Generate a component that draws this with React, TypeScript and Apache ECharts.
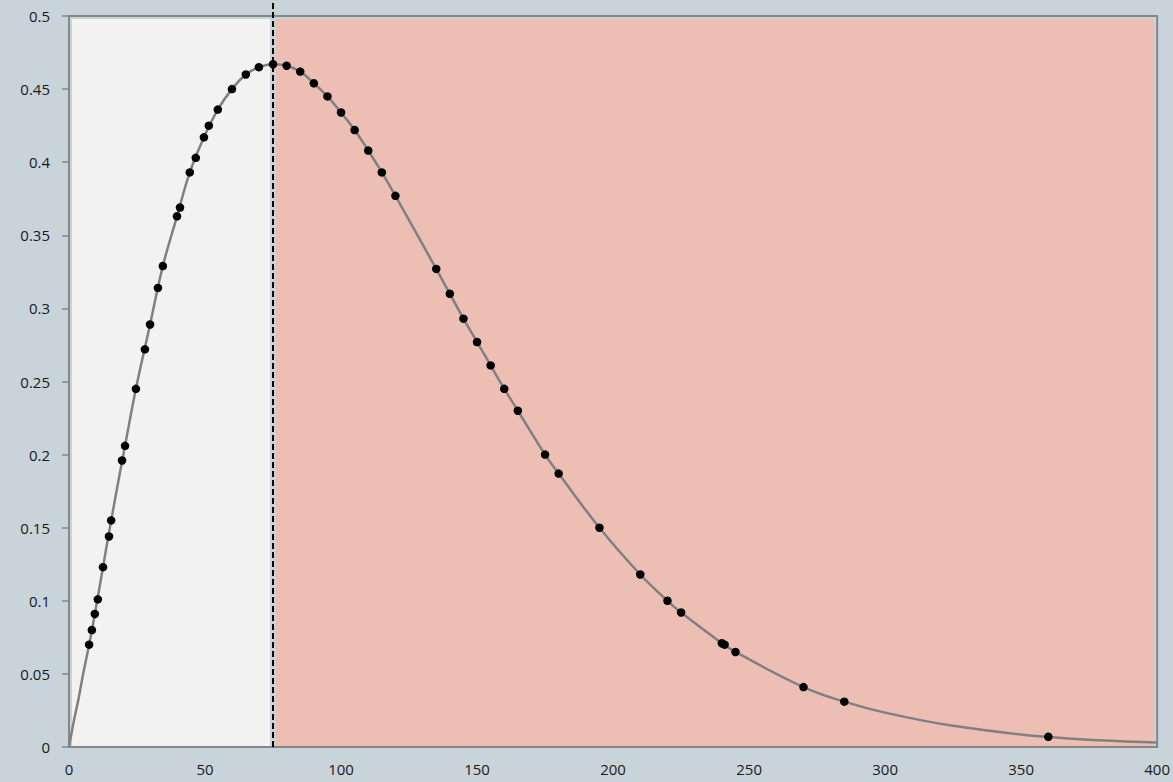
import React, { useEffect, useRef } from "react";
import * as echarts from "echarts";

// Observed data points (dots)
const pointX = [7.4, 8.4, 9.5, 10.6, 12.5, 14.7, 15.5, 19.5, 20.6, 24.6, 27.9, 29.8, 32.7, 34.5, 39.7, 40.8, 44.4, 46.6, 49.6, 51.4, 54.7, 59.9, 65, 69.8, 75, 80, 85, 90, 95, 100, 105, 110, 115, 120, 135, 140, 145, 150, 155, 160, 165, 175, 180, 195, 210, 220, 225, 240, 241, 245, 270, 285, 360];
const pointY = [0.070, 0.080, 0.091, 0.101, 0.123, 0.144, 0.155, 0.196, 0.206, 0.245, 0.272, 0.289, 0.314, 0.329, 0.363, 0.369, 0.393, 0.403, 0.417, 0.425, 0.436, 0.450, 0.460, 0.465, 0.467, 0.466, 0.462, 0.454, 0.445, 0.434, 0.422, 0.408, 0.393, 0.377, 0.327, 0.310, 0.293, 0.277, 0.261, 0.245, 0.230, 0.200, 0.187, 0.150, 0.118, 0.100, 0.092, 0.071, 0.070, 0.065, 0.041, 0.031, 0.007];

// Fitted curve
const curveX = [0, 1.8, 3.4, 5.2, 7.4, 9.5, 12.5, 15.5, 20.6, 24.6, 29.8, 34.5, 39.7, 44.4, 49.6, 54.7, 59.9, 65, 69.8, 75, 80, 85, 90, 95, 100, 105, 110, 115, 120, 135, 140, 145, 150, 155, 160, 165, 175, 180, 195, 210, 220, 225, 240, 245, 270, 285, 300, 325, 360, 400];
const curveY = [0, 0.018, 0.032, 0.05, 0.070, 0.091, 0.123, 0.155, 0.206, 0.245, 0.289, 0.329, 0.363, 0.393, 0.417, 0.436, 0.450, 0.460, 0.465, 0.467, 0.466, 0.462, 0.454, 0.445, 0.434, 0.422, 0.408, 0.393, 0.377, 0.327, 0.310, 0.293, 0.277, 0.261, 0.245, 0.230, 0.200, 0.187, 0.150, 0.118, 0.100, 0.092, 0.071, 0.065, 0.041, 0.031, 0.0235, 0.0145, 0.0068, 0.003];

// Shaded regions
const regionStart = [0, 75];
const regionEnd = [75, 400];
const regionTop = 0.5;
const regionColors = ["#f2f2f2", "#edbfb4"];

// Threshold line
const thresholdX = 75;
const thresholdYSpan = [0, 0.512];

const xTicks = { min: 0, max: 400, interval: 50 };
const yTicks = { min: 0, max: 0.5, interval: 0.05 };

export default function App() {
  const ref = useRef<HTMLDivElement>(null);
  useEffect(() => {
    if (!ref.current) return;
    const chart = echarts.init(ref.current, undefined, { renderer: "svg" });
    const axisColor = "#878787";
    const fontFamily = "'Open Sans', 'DejaVu Sans', sans-serif";
    chart.setOption({
      animation: false,
      backgroundColor: "#c8d3da",
      grid: {
        left: 69,
        right: 15,
        top: 16,
        bottom: 35,
        show: true,
        borderColor: axisColor,
        borderWidth: 2,
        backgroundColor: "transparent",
      },
      xAxis: {
        type: "value",
        min: xTicks.min,
        max: xTicks.max,
        interval: xTicks.interval,
        axisLine: { show: true, onZero: false, lineStyle: { color: axisColor, width: 2 } },
        axisTick: { show: true, inside: true, length: 6, lineStyle: { color: axisColor, width: 1.5 } },
        axisLabel: { color: "#1a1a1a", fontSize: 15, fontFamily, margin: 14 },
        splitLine: { show: false },
      },
      yAxis: {
        type: "value",
        min: yTicks.min,
        max: yTicks.max,
        interval: yTicks.interval,
        axisLine: { show: true, onZero: false, lineStyle: { color: axisColor, width: 2 } },
        axisTick: { show: true, inside: false, length: 7, lineStyle: { color: axisColor, width: 1.5 } },
        axisLabel: { color: "#1a1a1a", fontSize: 15, fontFamily, margin: 19 },
        splitLine: { show: false },
      },
      series: [
        {
          type: "custom",
          silent: true,
          z: 1,
          data: regionStart.map((s, i) => [s, regionEnd[i], regionTop, i]),
          renderItem: (params: any, api: any) => {
            const s = api.value(0);
            const e = api.value(1);
            const t = api.value(2);
            const idx = api.value(3);
            const p0 = api.coord([s, t]);
            const p1 = api.coord([e, 0]);
            const inset = 3;
            return {
              type: "rect",
              shape: {
                x: p0[0] + inset,
                y: p0[1] + inset,
                width: p1[0] - p0[0] - 2 * inset,
                height: p1[1] - p0[1] - inset - 1,
              },
              style: { fill: regionColors[idx] },
            };
          },
        },
        {
          type: "line",
          z: 3,
          clip: false,
          data: thresholdYSpan.map((y) => [thresholdX, y]),
          symbol: "none",
          lineStyle: { color: "#000", width: 2, type: [6, 3] },
        },
        {
          type: "line",
          z: 4,
          data: curveX.map((x, i) => [x, curveY[i]]),
          smooth: 0.4,
          symbol: "none",
          lineStyle: { color: "#808080", width: 2.5 },
        },
        {
          type: "scatter",
          z: 5,
          data: pointX.map((x, i) => [x, pointY[i]]),
          symbol: "circle",
          symbolSize: 8.5,
          itemStyle: { color: "#000", opacity: 1 },
        },
      ],
    });
    return () => chart.dispose();
  }, []);
  return (
    <div
      ref={ref}
      style={{ position: "fixed", left: 0, top: 0, width: 1173, height: 782 }}
    />
  );
}
